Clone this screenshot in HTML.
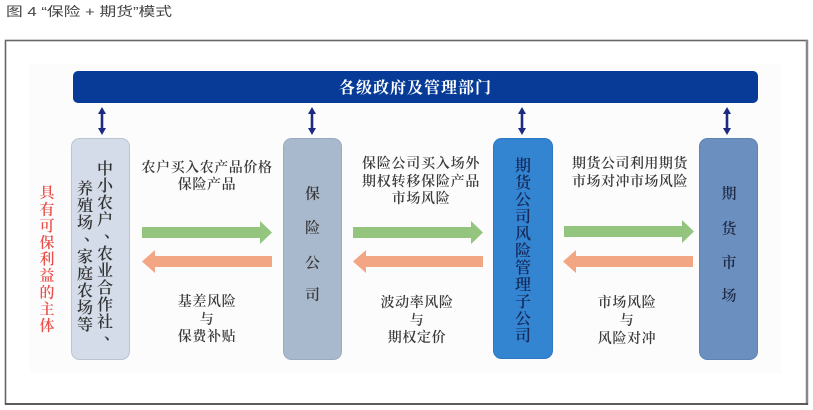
<!DOCTYPE html>
<html>
<head>
<meta charset="utf-8">
<style>
html,body{margin:0;padding:0;background:#fff;}
body{width:813px;height:410px;overflow:hidden;}
svg{display:block;}
.t{font-family:"Liberation Serif","Noto Serif CJK SC",serif;font-weight:600;}
.tb{font-family:"Liberation Serif","Noto Serif CJK SC",serif;font-weight:700;}
.lab{font-family:"Liberation Serif","Noto Serif CJK SC",serif;font-size:14px;fill:#3a3a3a;font-weight:600;letter-spacing:0.6px;}
</style>
</head>
<body>
<svg width="813" height="410" viewBox="0 0 813 410" xmlns="http://www.w3.org/2000/svg">
  <!-- title -->
  <text x="6" y="16" font-family="Liberation Sans, Noto Sans CJK SC, sans-serif" font-size="13" fill="#444" textLength="166" lengthAdjust="spacingAndGlyphs">图 4   “保险 + 期货”模式</text>

  <!-- frame -->
  <rect x="5.5" y="40.5" width="801.5" height="363.5" fill="#fff" stroke="#666" stroke-width="1.6"/>
  <line x1="807" y1="40" x2="807" y2="405" stroke="#888" stroke-width="2.5"/>
  <line x1="5" y1="404" x2="808" y2="404" stroke="#444" stroke-width="1.6"/>

  <!-- faint inner bg -->
  <rect x="30" y="64" width="752" height="309" fill="#fcfcfd"/>

  <!-- top bar -->
  <rect x="73" y="71" width="685" height="32" rx="5" fill="#073b97"/>
  <text x="415.5" y="93" text-anchor="middle" class="tb" font-size="16" fill="#fff" letter-spacing="1">各级政府及管理部门</text>

  <!-- double arrows -->
  <g fill="#1c2a80" stroke="#1c2a80">
    <g transform="translate(102,0)">
      <line x1="0" y1="112" x2="0" y2="130" stroke-width="2.6"/>
      <polygon points="-4,114 4,114 0,107" stroke="none"/>
      <polygon points="-4,128 4,128 0,135" stroke="none"/>
    </g>
    <g transform="translate(312,0)">
      <line x1="0" y1="112" x2="0" y2="130" stroke-width="2.6"/>
      <polygon points="-4,114 4,114 0,107" stroke="none"/>
      <polygon points="-4,128 4,128 0,135" stroke="none"/>
    </g>
    <g transform="translate(522,0)">
      <line x1="0" y1="112" x2="0" y2="130" stroke-width="2.6"/>
      <polygon points="-4,114 4,114 0,107" stroke="none"/>
      <polygon points="-4,128 4,128 0,135" stroke="none"/>
    </g>
    <g transform="translate(727,0)">
      <line x1="0" y1="112" x2="0" y2="130" stroke-width="2.6"/>
      <polygon points="-4,114 4,114 0,107" stroke="none"/>
      <polygon points="-4,128 4,128 0,135" stroke="none"/>
    </g>
  </g>

  <!-- boxes -->
  <rect x="71.5" y="138.5" width="58" height="221" rx="8" fill="#d3dce8" stroke="#b9c5d4" stroke-width="1"/>
  <rect x="283.5" y="138.5" width="58" height="221" rx="8" fill="#a9b9cd" stroke="#9aabc1" stroke-width="1"/>
  <rect x="493.5" y="138.5" width="59" height="220" rx="8" fill="#3384d1" stroke="#2c78c2" stroke-width="1"/>
  <rect x="699.5" y="138.5" width="58" height="221" rx="8" fill="#6b8fbe" stroke="#5f83b2" stroke-width="1"/>

  <!-- red vertical text -->
  <g class="t" font-size="15" fill="#e9504a" text-anchor="middle">
    <text x="47" y="197.7">具</text>
    <text x="47" y="214.3">有</text>
    <text x="47" y="230.9">可</text>
    <text x="47" y="247.5">保</text>
    <text x="47" y="264.1">利</text>
    <text x="47" y="280.7">益</text>
    <text x="47" y="297.3">的</text>
    <text x="47" y="313.9">主</text>
    <text x="47" y="330.5">体</text>
  </g>

  <!-- box1 text -->
  <g class="t" font-size="16" fill="#333" text-anchor="middle">
    <text x="105" y="174">中</text>
    <text x="105" y="191">小</text>
    <text x="105" y="208">农</text>
    <text x="105" y="225">户</text>
    <text x="112" y="237">、</text>
    <text x="105" y="259">农</text>
    <text x="105" y="276">业</text>
    <text x="105" y="293">合</text>
    <text x="105" y="310">作</text>
    <text x="105" y="327">社</text>
    <text x="112" y="339">、</text>

    <text x="85" y="194">养</text>
    <text x="85" y="211">殖</text>
    <text x="85" y="228">场</text>
    <text x="92" y="240">、</text>
    <text x="85" y="262">家</text>
    <text x="85" y="279">庭</text>
    <text x="85" y="296">农</text>
    <text x="85" y="313">场</text>
    <text x="85" y="330">等</text>
  </g>

  <!-- box2 text -->
  <g class="t" font-size="15" fill="#3a3a3a" text-anchor="middle">
    <text x="312.5" y="198.7">保</text>
    <text x="312.5" y="232.7">险</text>
    <text x="312.5" y="267.7">公</text>
    <text x="312.5" y="299.7">司</text>
  </g>

  <!-- box3 text -->
  <g class="t" font-size="16" fill="#15295a" text-anchor="middle">
    <text x="523" y="171">期</text>
    <text x="523" y="188">货</text>
    <text x="523" y="205">公</text>
    <text x="523" y="222">司</text>
    <text x="523" y="239">风</text>
    <text x="523" y="256">险</text>
    <text x="523" y="273">管</text>
    <text x="523" y="290">理</text>
    <text x="523" y="307">子</text>
    <text x="523" y="324">公</text>
    <text x="523" y="341">司</text>
  </g>

  <!-- box4 text -->
  <g class="t" font-size="15" fill="#1e2a46" text-anchor="middle">
    <text x="729" y="198.7">期</text>
    <text x="729" y="233.7">货</text>
    <text x="729" y="267.7">市</text>
    <text x="729" y="300.7">场</text>
  </g>

  <!-- arrows -->
  <g>
    <polygon points="142,227 260,227 260,221 272,232.5 260,244 260,238 142,238" fill="#94c57e"/>
    <polygon points="272,256 155,256 155,250 142,261.5 155,273 155,267 272,267" fill="#f3a683"/>

    <polygon points="353,227 471,227 471,221 483,232.5 471,244 471,238 353,238" fill="#94c57e"/>
    <polygon points="483,256 366,256 366,250 353,261.5 366,273 366,267 483,267" fill="#f3a683"/>

    <polygon points="564,226 682,226 682,220 694,231.5 682,243 682,237 564,237" fill="#94c57e"/>
    <polygon points="693,256 576,256 576,250 563,261.5 576,273 576,267 693,267" fill="#f3a683"/>
  </g>

  <!-- labels -->
  <g class="lab" text-anchor="middle">
    <text x="207" y="172" textLength="131" lengthAdjust="spacing">农户买入农产品价格</text>
    <text x="207" y="189">保险产品</text>

    <text x="207" y="306">基差风险</text>
    <text x="207" y="324">与</text>
    <text x="207" y="341">保费补贴</text>

    <text x="421" y="168" textLength="118" lengthAdjust="spacing">保险公司买入场外</text>
    <text x="421" y="186" textLength="118" lengthAdjust="spacing">期权转移保险产品</text>
    <text x="421" y="203">市场风险</text>

    <text x="417" y="307">波动率风险</text>
    <text x="417" y="325">与</text>
    <text x="417" y="342">期权定价</text>

    <text x="630" y="168" textLength="116" lengthAdjust="spacing">期货公司利用期货</text>
    <text x="630" y="186" textLength="116" lengthAdjust="spacing">市场对冲市场风险</text>

    <text x="627" y="307">市场风险</text>
    <text x="627" y="325">与</text>
    <text x="627" y="343">风险对冲</text>
  </g>
</svg>
</body>
</html>
